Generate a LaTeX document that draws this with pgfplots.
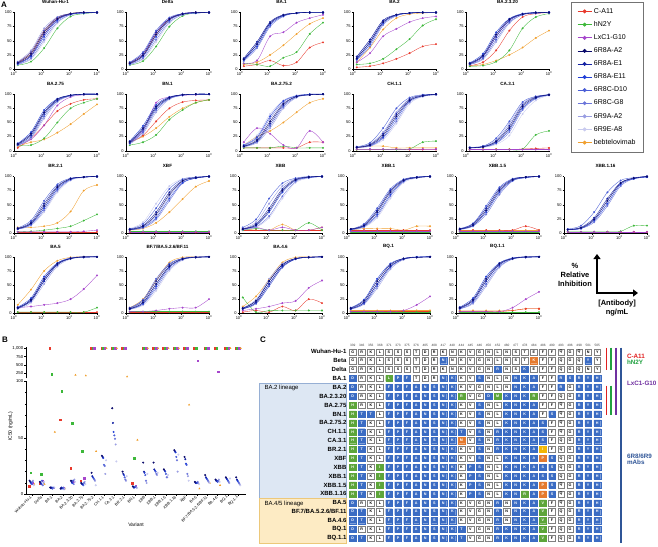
\documentclass[border=0pt]{standalone}
\usepackage{fontspec}
\setmainfont{Liberation Sans}
\usepackage{pgfplots}
\usepackage{pgfplotstable}
\pgfplotsset{compat=1.18}
\usetikzlibrary{arrows.meta}

% antibody colours
\definecolor{cR}{HTML}{E8392C}
\definecolor{cG}{HTML}{3DB83A}
\definecolor{cP}{HTML}{A646CC}
\definecolor{cB1}{HTML}{0A0A6B}
\definecolor{cB2}{HTML}{1522A3}
\definecolor{cB3}{HTML}{2240D8}
\definecolor{cB4}{HTML}{4A5ED6}
\definecolor{cB5}{HTML}{6C76DA}
\definecolor{cB6}{HTML}{9A9EE2}
\definecolor{cB7}{HTML}{C9CBEF}
\definecolor{cO}{HTML}{F0A030}
% table colours
\definecolor{cellB}{HTML}{3B6CC3}
\definecolor{cellG}{HTML}{5DA53A}
\definecolor{cellO}{HTML}{E57A2E}
\definecolor{cellY}{HTML}{F2B705}
\definecolor{labR}{HTML}{E02020}
\definecolor{labG}{HTML}{20A040}
\definecolor{labP}{HTML}{7030A0}
\definecolor{labB}{HTML}{2F5597}
\definecolor{boxBf}{HTML}{DDE7F3}
\definecolor{boxBd}{HTML}{96AFD4}
\definecolor{boxYf}{HTML}{FDEBC4}
\definecolor{boxYd}{HTML}{ECC87A}

\pgfdeclareplotmark{cell}{%
  \pgfsetcornersarced{\pgfpoint{1.1pt}{1.1pt}}%
  \pgfpathmoveto{\pgfpoint{-3.35pt}{0pt}}%
  \pgfpathlineto{\pgfpoint{-3.35pt}{3.05pt}}%
  \pgfpathlineto{\pgfpoint{3.35pt}{3.05pt}}%
  \pgfpathlineto{\pgfpoint{3.35pt}{-3.05pt}}%
  \pgfpathlineto{\pgfpoint{-3.35pt}{-3.05pt}}%
  \pgfpathclose
  \pgfusepathqfillstroke}

\pgfplotsset{/pgf/number format/assume math mode=true}
\pgfplotsset{
  apanel/.style={scale only axis, width=83pt, height=56.5pt, anchor=south west,
    xmin=1, xmax=1000, ymin=0, ymax=100,
    ytick={0,25,50,75,100}, xtick={1,10,100,1000},
    xticklabels={10\textsuperscript{0},10\textsuperscript{1},10\textsuperscript{2},10\textsuperscript{3}},
    axis x line*=bottom, axis y line*=left, axis line style={line width=0.4pt},
    tick align=outside, major tick length=1.5pt, minor tick length=0.9pt,
    tick style={line width=0.3pt, black},
    ticklabel style={font=\fontsize{4}{4}\selectfont, inner sep=0.8pt},
    title style={font=\bfseries\fontsize{4.6}{5}\selectfont, at={(0.5,1)}, anchor=south, yshift=2.5pt, inner sep=0pt},
    clip=false,
    every axis plot/.append style={line width=0.35pt, mark=*, mark size=0.8pt, smooth, tension=0.55},
  },
  pB/.style={scale only axis, width=220pt, anchor=south west,
    xmin=-0.55, xmax=20.75, axis y line*=left,
    tick align=outside, major tick length=1.6pt, minor tick length=1pt,
    tick style={line width=0.3pt, black}, axis line style={line width=0.4pt},
    yticklabel style={font=\fontsize{4.3}{4.3}\selectfont, inner sep=1pt},
    every axis plot/.append style={only marks, mark size=0.8pt},
  },
  cellplot/.style={only marks, mark=cell, point meta=explicit symbolic,
    nodes near coords={\pgfplotspointmeta}, nodes near coords align={center},
    every node near coord/.append style={font=\bfseries\fontsize{3.7}{3.7}\selectfont, inner sep=0pt, anchor=center, text=#1}},
}

\newcommand\Apanel[4]{%
  \begin{axis}[xmode=log, apanel, at={(#1pt,-#2pt)}, title={#3}]
    \addplot[cO] table[x=c,y=O]{#4};
    \addplot[cR] table[x=c,y=R]{#4};
    \addplot[cG] table[x=c,y=G]{#4};
    \addplot[cP] table[x=c,y=P]{#4};
    \addplot[cB7] table[x=c,y=B7]{#4};
    \addplot[cB6] table[x=c,y=B6]{#4};
    \addplot[cB5] table[x=c,y=B5]{#4};
    \addplot[cB4] table[x=c,y=B4]{#4};
    \addplot[cB3] table[x=c,y=B3]{#4};
    \addplot[cB2] table[x=c,y=B2]{#4};
    \addplot[cB1] table[x=c,y=B1]{#4};
  \end{axis}}

% ---- panel A: % relative inhibition vs antibody (ng/mL)
\pgfplotstableread{
c R G P B1 B2 B3 B4 B5 B6 B7 O
1.37 12 7 10 11 10 9 12 8 13 8 11
4.12 30 13 24 27 24 22 30 19 33 17 27
12.3 68 37 61 65 61 57 68 52 72 48 65
37 91 72 88 89 88 86 91 83 92 81 89
111 98 93 97 98 97 97 98 96 98 96 98
333 100 98 100 100 100 99 100 99 100 99 100
1000 100 100 100 100 100 100 100 100 100 100 100
}\datWu
\pgfplotstableread{
c R G P B1 B2 B3 B4 B5 B6 B7 O
1.37 10 7 11 10 11 9 12 8 10 8 10
4.12 24 14 27 24 27 22 30 19 24 17 24
12.3 61 40 65 61 65 57 68 52 61 48 61
37 88 75 89 88 89 86 91 83 88 81 88
111 97 94 98 97 98 97 98 96 97 96 97
333 100 99 100 100 100 99 100 99 100 99 100
1000 100 100 100 100 100 100 100 100 100 100 100
}\datDe
\pgfplotstableread{
c R G P B1 B2 B3 B4 B5 B6 B7 O
1.37 5 10 10 17 19 16 17 14 19 16 8
4.12 8 8 15 44 48 40 44 37 48 40 12
12.3 15 5 58 81 83 78 81 75 83 78 25
37 6 20 65 95 96 94 95 93 96 94 42
111 12 30 82 99 99 99 99 99 99 99 62
333 38 62 90 100 100 100 100 100 100 100 80
1000 47 82 96 100 100 100 100 100 100 100 90
}\datBAa
\pgfplotstableread{
c R G P B1 B2 B3 B4 B5 B6 B7 O
1.37 3 8 12 19 22 17 19 16 22 17 12
4.12 5 10 28 48 52 44 48 40 52 44 38
12.3 10 18 58 83 86 81 83 78 86 81 70
37 18 35 71 96 96 95 96 94 96 95 90
111 28 53 83 99 99 99 99 99 99 99 97
333 40 77 90 100 100 100 100 100 100 100 99
1000 44 88 93 100 100 100 100 100 100 100 100
}\datBAb
\pgfplotstableread{
c R G P B1 B2 B3 B4 B5 B6 B7 O
1.37 6 5 9 10 9 11 8 10 8 9 5
4.12 12 6 22 24 22 27 19 24 17 22 8
12.3 33 13 57 61 57 65 52 61 48 57 15
37 68 33 86 88 86 89 83 88 81 86 25
111 92 72 97 97 97 98 96 97 96 97 38
333 98 92 99 100 99 100 99 100 99 99 55
1000 100 98 100 100 100 100 100 100 100 100 68
}\datBAc
\pgfplotstableread{
c R G P B1 B2 B3 B4 B5 B6 B7 O
1.37 5 10 10 12 11 13 10 12 9 11 8
4.12 22 10 20 30 27 33 24 30 22 27 15
12.3 45 22 45 68 65 72 61 68 57 65 20
37 70 50 80 91 89 92 88 91 86 89 32
111 83 75 95 98 98 98 97 98 97 98 47
333 90 85 99 100 100 100 100 100 99 100 65
1000 92 92 100 100 100 100 100 100 100 100 82
}\datBAd
\pgfplotstableread{
c R G P B1 B2 B3 B4 B5 B6 B7 O
1.37 15 10 15 16 14 17 13 16 12 14 15
4.12 27 15 35 40 37 44 33 40 30 37 25
12.3 52 28 85 78 75 81 72 78 68 75 40
37 75 55 95 94 93 95 92 94 91 93 60
111 86 72 98 99 99 99 98 99 98 99 75
333 89 85 99 100 100 100 100 100 100 100 85
1000 90 90 100 100 100 100 100 100 100 100 90
}\datBN
\pgfplotstableread{
c R G P B1 B2 B3 B4 B5 B6 B7 O
1.37 5 5 15 8 8 10 7 9 7 11 10
4.12 5 5 40 19 17 24 16 22 14 27 25
12.3 5 5 30 52 48 61 44 57 40 65 35
37 5 8 10 83 81 88 78 86 75 89 50
111 5 5 5 96 96 97 95 97 94 98 68
333 15 5 35 99 99 100 99 99 99 100 85
1000 15 5 15 100 100 100 100 100 100 100 92
}\datBAe
\pgfplotstableread{
c R G P B1 B2 B3 B4 B5 B6 B7 O
1.37 2 2 3 6 6 6 7 6 6 6 5
4.12 2 2 3 10 11 9 14 8 12 8 8
12.3 2 2 3 27 30 24 40 22 33 19 8
37 3 2 3 61 65 57 75 52 68 48 5
111 2 3 3 89 91 88 94 86 92 83 5
333 2 15 3 97 98 97 99 96 98 96 5
1000 2 17 3 100 100 100 100 99 100 99 5
}\datCH
\pgfplotstableread{
c R G P B1 B2 B3 B4 B5 B6 B7 O
1.37 2 2 2 5 5 5 6 5 6 5 3
4.12 2 2 2 7 7 7 8 6 8 6 3
12.3 2 2 2 16 17 14 22 13 19 11 3
37 2 2 2 40 44 37 52 33 48 27 3
111 3 3 2 78 81 75 86 72 83 65 3
333 4 28 2 94 95 93 96 92 96 89 3
1000 5 35 2 99 99 99 99 98 99 98 3
}\datCA
\pgfplotstableread{
c R G P B1 B2 B3 B4 B5 B6 B7 O
1.37 2 2 2 8 8 7 9 7 7 7 10
4.12 2 3 2 17 19 16 22 14 16 13 10
12.3 2 5 2 48 52 44 57 40 44 37 12
37 2 8 2 81 83 78 86 75 78 72 18
111 2 12 2 96 96 95 97 94 95 93 38
333 2 22 3 99 99 99 99 99 99 98 75
1000 2 33 5 100 100 100 100 100 100 100 85
}\datBR
\pgfplotstableread{
c R G P B1 B2 B3 B4 B5 B6 B7 O
1.37 1 3 2 6 7 6 7 6 6 8 5
4.12 1 3 2 12 13 10 16 9 11 19 8
12.3 1 3 2 33 37 27 44 24 30 52 18
37 1 3 2 68 72 61 78 57 65 83 37
111 1 3 2 92 93 89 95 88 91 96 60
333 1 3 2 98 98 97 99 97 98 99 82
1000 1 3 2 100 100 100 100 100 100 100 92
}\datXF
\pgfplotstableread{
c R G P B1 B2 B3 B4 B5 B6 B7 O
1.37 5 5 8 7 7 7 10 6 8 6 8
4.12 5 8 10 14 16 13 24 11 19 10 5
12.3 5 5 5 40 44 37 61 30 52 27 5
37 5 5 10 75 78 72 88 65 83 61 15
111 5 5 5 94 95 93 97 91 96 89 5
333 5 18 5 99 99 98 100 98 99 97 5
1000 5 5 10 100 100 100 100 100 100 100 10
}\datXa
\pgfplotstableread{
c R G P B1 B2 B3 B4 B5 B6 B7 O
1.37 5 2 3 7 7 6 7 6 7 6 5
4.12 5 2 3 13 14 12 16 11 14 10 8
12.3 5 2 3 37 40 33 44 30 40 27 8
37 5 2 3 72 75 68 78 65 75 61 8
111 5 2 3 93 94 92 95 91 94 89 5
333 5 2 3 98 99 98 99 98 99 97 12
1000 5 2 3 100 100 100 100 100 100 100 12
}\datXb
\pgfplotstableread{
c R G P B1 B2 B3 B4 B5 B6 B7 O
1.37 5 2 3 7 7 7 8 6 7 7 5
4.12 5 2 3 14 16 13 17 12 16 13 5
12.3 5 2 3 40 44 37 48 33 44 37 5
37 5 2 3 75 78 72 81 68 78 72 5
111 5 2 3 94 95 93 96 92 95 93 5
333 12 2 3 99 99 98 99 98 99 98 5
1000 5 2 3 100 100 100 100 100 100 100 5
}\datXc
\pgfplotstableread{
c R G P B1 B2 B3 B4 B5 B6 B7 O
1.37 2 2 2 6 6 6 7 6 6 6 2
4.12 2 2 2 9 10 8 13 8 9 8 2
12.3 2 2 2 24 27 22 37 19 24 22 2
37 2 2 2 57 61 52 72 48 57 52 2
111 2 3 2 88 89 86 93 83 88 86 2
333 2 13 2 97 97 96 98 96 97 96 2
1000 2 13 2 100 100 99 100 99 100 99 2
}\datXd
\pgfplotstableread{
c R G P B1 B2 B3 B4 B5 B6 B7 O
1.37 2 2 10 10 9 11 9 10 8 10 15
4.12 2 2 12 24 22 27 22 24 19 24 42
12.3 2 2 15 61 57 65 57 61 52 61 75
37 2 2 18 88 86 89 86 88 83 88 93
111 2 2 25 97 97 98 97 97 96 97 99
333 2 2 43 100 99 100 99 100 99 100 100
1000 2 10 67 100 100 100 100 100 100 100 100
}\datBAf
\pgfplotstableread{
c R G P B1 B2 B3 B4 B5 B6 B7 O
1.37 2 3 3 8 9 8 10 7 8 7 10
4.12 2 3 3 19 22 17 24 16 19 14 25
12.3 2 3 5 52 57 48 61 44 52 40 58
37 2 3 8 83 86 81 88 78 83 75 90
111 2 3 10 96 97 96 97 95 96 94 99
333 2 3 10 99 99 99 100 99 99 99 100
1000 2 3 25 100 100 100 100 100 100 100 100
}\datBF
\pgfplotstableread{
c R G P B1 B2 B3 B4 B5 B6 B7 O
1.37 2 28 5 9 8 9 8 8 10 8 12
4.12 5 2 8 22 19 22 17 19 24 17 30
12.3 2 5 12 57 52 57 48 52 61 48 60
37 12 5 18 86 83 86 81 83 88 81 90
111 5 5 22 97 96 97 96 96 97 96 99
333 25 5 45 99 99 99 99 99 100 99 100
1000 18 5 58 100 100 100 100 100 100 100 100
}\datBAg
\pgfplotstableread{
c R G P B1 B2 B3 B4 B5 B6 B7 O
1.37 3 2 3 9 8 10 8 8 7 9 5
4.12 3 2 3 22 19 24 17 19 16 22 5
12.3 3 2 3 57 52 61 48 52 44 57 5
37 3 2 3 86 83 88 81 83 78 86 5
111 3 2 5 97 96 97 96 96 95 97 5
333 3 2 15 99 99 100 99 99 99 99 5
1000 3 2 30 100 100 100 100 100 100 100 5
}\datBQa
\pgfplotstableread{
c R G P B1 B2 B3 B4 B5 B6 B7 O
1.37 3 2 3 10 9 11 8 9 8 10 5
4.12 3 2 3 24 22 27 19 22 17 24 5
12.3 3 2 3 61 57 65 52 57 48 61 5
37 3 2 3 88 86 89 83 86 81 88 5
111 5 2 10 97 97 98 96 97 96 97 5
333 8 2 25 100 99 100 99 99 99 100 8
1000 8 2 38 100 100 100 100 100 100 100 8
}\datBQb

% ---- panel B: IC50 (ng/mL), 1000 = not reached
\pgfplotstableread{
k R G P O b1 b2 b3 b4 b5 b6 b7
0 7 19 10 9 12 11 10 9 11 12 8
1 10 18 12 9 11 10 9 12 8 10 11
2 1000 220 6 55 6 5.5 6 5 6 5.5 6
3 66 91 6 5 5 6 5 5.5 6 4.5 5
4 23 63 11 200 12 11 10 12 9 13 11
5 12 38 14 180 10 9 9 8 10 11 9
6 1000 1000 1000 38 19 16 15 14 13 12 8
7 1000 1000 1000 1000 34 33 32 26 25 18 30
8 1000 1000 1000 1000 76 63 55 52 49 44 29
9 1000 1000 1000 150 20 18 17 15 13 12 16
10 10 32 7 48 7 6 6 6.5 7 6 5.5
11 1000 1000 1000 1000 28 20 19 17 12 10 18
12 1000 1000 1000 1000 28 22 21 20 18 17 19
13 1000 1000 1000 1000 22 21 20 18 15 15 17
14 1000 1000 1000 1000 39 38 37 33 30 20 35
15 1000 1000 1000 79 33 31 27 26 18 16 12
16 1000 1000 630 5 11 10 10 10 11 10 9
17 1000 1000 1000 10 17 15 14 13 12 11 10
18 1000 1000 300 8 13 12 12 11 12 13 11
19 1000 1000 1000 1000 15 14 13 12 11 10 14
20 1000 1000 1000 1000 15 13 12 11 10 9 8
}\datIC

% ---- panel C: RBD residues (column, row, residue), one table per cell colour
\pgfplotstableread[row sep=\\,col sep=space]{x y L\\%
1 22 G\\2 22 R\\3 22 K\\4 22 L\\5 22 S\\6 22 S\\7 22 S\\8 22 T\\9 22 D\\10 22 R\\11 22 K\\12 22 N\\13 22 K\\14 22 V\\15 22 G\\16 22 N\\17 22 L\\18 22 N\\19 22 S\\20 22 T\\21 22 E\\22 22 F\\23 22 F\\24 22 Q\\25 22 G\\26 22 Q\\27 22 N\\28 22 Y\\%
1 21 G\\2 21 R\\3 21 K\\4 21 L\\5 21 S\\6 21 S\\7 21 S\\8 21 T\\9 21 D\\10 21 R\\12 21 N\\13 21 K\\14 21 V\\15 21 G\\16 21 N\\17 21 L\\18 21 N\\19 21 S\\20 21 T\\22 21 F\\23 21 F\\24 21 Q\\25 21 G\\26 21 Q\\28 21 Y\\%
1 20 G\\2 20 R\\3 20 K\\4 20 L\\5 20 S\\6 20 S\\7 20 S\\8 20 T\\9 20 D\\10 20 R\\11 20 K\\12 20 N\\13 20 K\\14 20 V\\15 20 G\\16 20 N\\18 20 N\\19 20 S\\21 20 E\\22 20 F\\23 20 F\\24 20 Q\\25 20 G\\26 20 Q\\27 20 N\\28 20 Y\\%
2 19 R\\3 19 K\\4 19 L\\8 19 T\\9 19 D\\10 19 R\\13 19 K\\14 19 V\\16 19 N\\17 19 L\\18 19 N\\22 19 F\\23 19 F\\%
2 18 R\\3 18 K\\4 18 L\\13 18 K\\14 18 V\\15 18 G\\16 18 N\\17 18 L\\18 18 N\\22 18 F\\23 18 F\\25 18 G\\%
2 17 R\\3 17 K\\4 17 L\\14 17 V\\15 17 G\\22 17 F\\23 17 F\\24 17 Q\\25 17 G\\%
2 16 R\\3 16 K\\4 16 L\\13 16 K\\14 16 V\\16 16 N\\17 16 L\\22 16 F\\23 16 F\\24 16 Q\\25 16 G\\%
4 15 L\\13 15 K\\14 15 V\\16 15 N\\17 15 L\\22 15 F\\24 15 Q\\25 15 G\\%
3 14 K\\4 14 L\\13 14 K\\14 14 V\\16 14 N\\17 14 L\\23 14 F\\24 14 Q\\25 14 G\\%
3 13 K\\4 13 L\\14 13 V\\16 13 N\\23 13 F\\24 13 Q\\25 13 G\\%
3 12 K\\4 12 L\\14 12 V\\16 12 N\\23 12 F\\24 12 Q\\25 12 G\\%
3 11 K\\4 11 L\\13 11 K\\14 11 V\\16 11 N\\23 11 F\\24 11 Q\\25 11 G\\%
3 10 K\\4 10 L\\13 10 K\\14 10 V\\16 10 N\\17 10 L\\24 10 Q\\25 10 G\\%
3 9 K\\13 9 K\\16 9 N\\17 9 L\\24 9 Q\\25 9 G\\%
3 8 K\\13 8 K\\16 8 N\\17 8 L\\24 8 Q\\25 8 G\\%
3 7 K\\13 7 K\\16 7 N\\17 7 L\\24 7 Q\\25 7 G\\%
3 6 K\\13 6 K\\16 6 N\\17 6 L\\24 6 Q\\25 6 G\\%
2 5 R\\3 5 K\\4 5 L\\13 5 K\\14 5 V\\15 5 G\\16 5 N\\18 5 N\\23 5 F\\24 5 Q\\25 5 G\\%
3 4 K\\4 4 L\\13 4 K\\14 4 V\\15 4 G\\16 4 N\\18 4 N\\23 4 F\\24 4 Q\\25 4 G\\%
3 3 K\\4 3 L\\13 3 K\\14 3 V\\15 3 G\\16 3 N\\18 3 N\\23 3 F\\24 3 Q\\25 3 G\\%
2 2 R\\3 2 K\\4 2 L\\14 2 V\\15 2 G\\16 2 N\\23 2 F\\24 2 Q\\25 2 G\\%
3 1 K\\4 1 L\\14 1 V\\15 1 G\\16 1 N\\23 1 F\\24 1 Q\\25 1 G\\%
}\cellW
\pgfplotstableread[row sep=\\,col sep=space]{x y L\\%
11 21 N\\27 21 Y\\%
17 20 R\\20 20 K\\%
1 19 D\\6 19 P\\7 19 F\\11 19 N\\12 19 K\\15 19 S\\19 19 N\\20 19 K\\21 19 A\\24 19 R\\25 19 S\\26 19 R\\27 19 Y\\28 19 H\\%
1 18 D\\5 18 F\\6 18 P\\7 18 F\\8 18 A\\9 18 N\\10 18 S\\11 18 N\\12 18 K\\19 18 N\\20 18 K\\21 18 A\\24 18 R\\26 18 R\\27 18 Y\\28 18 H\\%
1 17 D\\5 17 F\\6 17 P\\7 17 F\\8 17 A\\9 17 N\\10 17 S\\11 17 N\\12 17 K\\16 17 D\\18 17 K\\19 17 N\\20 17 K\\26 17 R\\27 17 Y\\28 17 H\\%
5 16 F\\6 16 P\\7 16 F\\8 16 A\\9 16 N\\10 16 S\\11 16 N\\12 16 K\\15 16 S\\18 16 K\\19 16 N\\20 16 K\\21 16 A\\26 16 R\\27 16 Y\\28 16 H\\%
2 15 T\\3 15 T\\5 15 F\\6 15 P\\7 15 F\\8 15 A\\9 15 N\\10 15 S\\11 15 N\\12 15 K\\15 15 S\\18 15 K\\19 15 N\\20 15 K\\21 15 A\\23 15 S\\26 15 R\\27 15 Y\\28 15 H\\%
2 14 T\\5 14 F\\6 14 P\\7 14 F\\8 14 A\\9 14 N\\10 14 S\\11 14 N\\12 14 K\\15 14 S\\18 14 K\\19 14 N\\20 14 K\\21 14 A\\22 14 S\\26 14 R\\27 14 Y\\28 14 H\\%
2 13 T\\5 13 F\\6 13 P\\7 13 F\\8 13 A\\9 13 N\\10 13 S\\11 13 N\\12 13 K\\13 13 T\\15 13 S\\17 13 R\\18 13 K\\19 13 N\\20 13 K\\21 13 A\\22 13 S\\26 13 R\\27 13 Y\\28 13 H\\%
2 12 T\\5 12 F\\6 12 P\\7 12 F\\8 12 A\\9 12 N\\10 12 S\\11 12 N\\12 12 K\\15 12 S\\17 12 R\\18 12 K\\19 12 N\\20 12 K\\21 12 A\\22 12 S\\26 12 R\\27 12 Y\\28 12 H\\%
2 11 T\\5 11 F\\6 11 P\\7 11 F\\8 11 A\\9 11 N\\10 11 S\\11 11 N\\12 11 K\\15 11 S\\17 11 R\\18 11 K\\19 11 N\\20 11 K\\21 11 A\\26 11 R\\27 11 Y\\28 11 H\\%
2 10 T\\5 10 F\\6 10 P\\7 10 F\\8 10 A\\9 10 N\\10 10 S\\11 10 N\\12 10 K\\15 10 S\\18 10 K\\19 10 N\\20 10 K\\21 10 A\\23 10 S\\26 10 R\\27 10 Y\\28 10 H\\%
2 9 T\\5 9 F\\6 9 P\\7 9 F\\8 9 A\\9 9 N\\10 9 S\\11 9 N\\12 9 K\\14 9 P\\15 9 S\\18 9 K\\19 9 N\\20 9 K\\21 9 A\\22 9 S\\23 9 S\\26 9 R\\27 9 Y\\28 9 H\\%
2 8 T\\5 8 F\\6 8 P\\7 8 F\\8 8 A\\9 8 N\\10 8 S\\11 8 N\\12 8 K\\14 8 P\\15 8 S\\18 8 K\\19 8 N\\20 8 K\\21 8 A\\22 8 S\\23 8 S\\26 8 R\\27 8 Y\\28 8 H\\%
2 7 T\\5 7 F\\6 7 P\\7 7 F\\8 7 A\\9 7 N\\10 7 S\\11 7 N\\12 7 K\\14 7 P\\15 7 S\\18 7 K\\19 7 N\\20 7 K\\21 7 A\\23 7 S\\26 7 R\\27 7 Y\\28 7 H\\%
2 6 T\\5 6 F\\6 6 P\\7 6 F\\8 6 A\\9 6 N\\10 6 S\\11 6 N\\12 6 K\\14 6 P\\15 6 S\\18 6 K\\19 6 N\\21 6 A\\23 6 S\\26 6 R\\27 6 Y\\28 6 H\\%
1 5 D\\5 5 F\\6 5 P\\7 5 F\\8 5 A\\9 5 N\\10 5 S\\11 5 N\\12 5 K\\17 5 R\\19 5 N\\20 5 K\\21 5 A\\26 5 R\\27 5 Y\\28 5 H\\%
1 4 D\\2 4 T\\5 4 F\\6 4 P\\7 4 F\\8 4 A\\9 4 N\\10 4 S\\11 4 N\\12 4 K\\17 4 R\\19 4 N\\20 4 K\\21 4 A\\26 4 R\\27 4 Y\\28 4 H\\%
1 3 D\\2 3 T\\5 3 F\\6 3 P\\7 3 F\\8 3 A\\9 3 N\\10 3 S\\11 3 N\\12 3 K\\17 3 R\\19 3 N\\20 3 K\\21 3 A\\26 3 R\\27 3 Y\\28 3 H\\%
1 2 D\\5 2 F\\6 2 P\\7 2 F\\8 2 A\\9 2 N\\10 2 S\\11 2 N\\12 2 K\\13 2 T\\17 2 R\\18 2 K\\19 2 N\\20 2 K\\21 2 A\\26 2 R\\27 2 Y\\28 2 H\\%
1 1 D\\2 1 T\\5 1 F\\6 1 P\\7 1 F\\8 1 A\\9 1 N\\10 1 S\\11 1 N\\12 1 K\\13 1 T\\17 1 R\\18 1 K\\19 1 N\\20 1 K\\21 1 A\\26 1 R\\27 1 Y\\28 1 H\\%
}\cellB
\pgfplotstableread[row sep=\\,col sep=space]{x y L\\%
5 19 L\\13 17 R\\17 17 M\\21 17 R\\1 16 H\\1 15 H\\1 14 H\\1 13 H\\1 12 H\\1 11 H\\1 10 H\\%
1 9 H\\4 9 I\\1 8 H\\4 8 I\\1 7 H\\4 7 I\\1 6 H\\4 6 I\\20 6 R\\%
22 5 V\\22 4 V\\22 3 V\\22 2 V\\22 1 V\\%
}\cellG
\pgfplotstableread[row sep=\\,col sep=space]{x y L\\%
21 21 K\\13 12 M\\22 10 P\\22 7 P\\22 6 P\\%
}\cellO
\pgfplotstableread[row sep=\\,col sep=space]{x y L\\%
22 11 I\\22 11 I\\%
}\cellY

\begin{document}
\begin{tikzpicture}
\path[use as bounding box] (0pt,0pt) rectangle (658pt,-546pt);

% ================= A =================
\node[font=\bfseries\fontsize{8}{8}\selectfont] at (4pt,-5pt) {A};
\Apanel{14}{69}{Wuhan-Hu-1}{\datWu}
\Apanel{126}{69}{Delta}{\datDe}
\Apanel{240}{69}{BA.1}{\datBAa}
\Apanel{353}{69}{BA.2}{\datBAb}
\Apanel{466}{69}{BA.2.3.20}{\datBAc}
\Apanel{14}{150.7}{BA.2.75}{\datBAd}
\Apanel{126}{150.7}{BN.1}{\datBN}
\Apanel{240}{150.7}{BA.2.75.2}{\datBAe}
\Apanel{353}{150.7}{CH.1.1}{\datCH}
\Apanel{466}{150.7}{CA.3.1}{\datCA}
\Apanel{14}{233}{BR.2.1}{\datBR}
\Apanel{126}{233}{XBF}{\datXF}
\Apanel{239}{233}{XBB}{\datXa}
\Apanel{347}{233}{XBB.1}{\datXb}
\Apanel{456}{233}{XBB.1.5}{\datXc}
\Apanel{564}{233}{XBB.1.16}{\datXd}
\Apanel{14}{313.3}{BA.5}{\datBAf}
\Apanel{126}{313.3}{BF.7/BA.5.2.6/BF.11}{\datBF}
\Apanel{239}{313.3}{BA.4.6}{\datBAg}
\Apanel{347}{313.3}{BQ.1}{\datBQa}
\Apanel{456}{313.3}{BQ.1.1}{\datBQb}

% legend
\begin{axis}[at={(571pt,-2pt)}, anchor=north west, scale only axis, width=10pt, height=10pt,
  hide axis, xmin=0, xmax=1, ymin=0, ymax=1, legend cell align=left,
  legend style={at={(0,1)}, anchor=north west, draw=black!55, line width=0.5pt,
    font=\fontsize{7}{8}\selectfont, row sep=2.7pt, inner xsep=6pt, inner ysep=4pt},
  legend image code/.code={\draw[mark repeat=2,mark phase=2,#1] plot coordinates {(0pt,0pt) (7pt,0pt) (14pt,0pt)};}]
  \addplot[draw=none, forget plot] coordinates {(0,0)};
  \addlegendimage{cR, mark=*, mark size=1.6pt, line width=0.7pt}
  \addlegendentry{C-A11}
  \addlegendimage{cG, mark=*, mark size=1.6pt, line width=0.7pt}
  \addlegendentry{hN2Y}
  \addlegendimage{cP, mark=*, mark size=1.6pt, line width=0.7pt}
  \addlegendentry{LxC1-G10}
  \addlegendimage{cB1, mark=*, mark size=1.6pt, line width=0.7pt}
  \addlegendentry{6R8A-A2}
  \addlegendimage{cB2, mark=*, mark size=1.6pt, line width=0.7pt}
  \addlegendentry{6R8A-E1}
  \addlegendimage{cB3, mark=*, mark size=1.6pt, line width=0.7pt}
  \addlegendentry{6R8A-E11}
  \addlegendimage{cB4, mark=*, mark size=1.6pt, line width=0.7pt}
  \addlegendentry{6R8C-D10}
  \addlegendimage{cB5, mark=*, mark size=1.6pt, line width=0.7pt}
  \addlegendentry{6R8C-G8}
  \addlegendimage{cB6, mark=*, mark size=1.6pt, line width=0.7pt}
  \addlegendentry{6R9A-A2}
  \addlegendimage{cB7, mark=*, mark size=1.6pt, line width=0.7pt}
  \addlegendentry{6R9E-A8}
  \addlegendimage{cO, mark=*, mark size=1.6pt, line width=0.7pt}
  \addlegendentry{bebtelovimab}
\end{axis}

% axis key
\node[font=\bfseries\fontsize{7.5}{9}\selectfont, align=center] at (575pt,-275pt) {\%\\Relative\\Inhibition};
\draw[line width=2.2pt, {Triangle[length=5pt,width=7pt]}-{Triangle[length=5pt,width=7pt]}]
  (597pt,-254pt) -- (597pt,-293pt) -- (638pt,-293pt);
\node[font=\bfseries\fontsize{7.5}{9}\selectfont, align=center] at (617pt,-308pt) {[Antibody]\\ng/mL};

% ================= B =================
\node[font=\bfseries\fontsize{8}{8}\selectfont] at (5pt,-340pt) {B};
\begin{axis}[pB, at={(26pt,-378.3pt)}, height=31.7pt, ymin=100, ymax=1050,
  ytick={250,500,750,1000}, axis x line=none, restrict y to domain=100:1100]
  \addplot[cB1, mark=*] table[x expr=\thisrow{k}-0.2, y=b1]{\datIC};
  \addplot[cR, mark=square*] table[x expr=\thisrow{k}-0.24, y=R]{\datIC};
  \addplot[cG, mark=square*] table[x expr=\thisrow{k}-0.08, y=G]{\datIC};
  \addplot[cP, mark=square*] table[x expr=\thisrow{k}+0.08, y=P]{\datIC};
  \addplot[cO, mark=triangle*] table[x expr=\thisrow{k}+0.24, y=O]{\datIC};
\end{axis}
\begin{axis}[pB, at={(26pt,-494.3pt)}, height=113.3pt, ymin=0, ymax=100,
  ytick={0,50,100}, minor y tick num=4, axis x line*=bottom,
  restrict y to domain=0:100,
  xtick={0,...,20},
  xticklabels={Wuhan-Hu-1,Delta,BA.1,BA.2,BA.2.3.20,BA.2.75,BA.2.75.2,CH.1.1,CA.3.1,BR.2.1,BN.1,XBB,XBB.1,XBB.1.5,XBB.1.16,XBF,BA.5,BF.7/BA.5.2.6/BF.11,BA.4.6,BQ.1,BQ.1.1},
  xticklabel style={rotate=45, anchor=east, font=\fontsize{3.9}{3.9}\selectfont, inner sep=0.8pt},
  xlabel={Variant}, ylabel={IC50 (ng/mL)},
  xlabel style={font=\fontsize{5}{5}\selectfont, at={(axis description cs:0.5,-0.27)}, anchor=center},
  ylabel style={font=\fontsize{5}{5}\selectfont, at={(axis description cs:-0.07,0.6)}, anchor=center}]
  \addplot[cO, mark=triangle*] table[x expr=\thisrow{k}+0.24, y=O]{\datIC};
  \addplot[cR, mark=square*] table[x expr=\thisrow{k}-0.24, y=R]{\datIC};
  \addplot[cG, mark=square*] table[x expr=\thisrow{k}-0.08, y=G]{\datIC};
  \addplot[cP, mark=square*] table[x expr=\thisrow{k}+0.08, y=P]{\datIC};
  \addplot[cB7, mark=*] table[x expr=\thisrow{k}+0.2, y=b7]{\datIC};
  \addplot[cB6, mark=*] table[x expr=\thisrow{k}+0.13, y=b6]{\datIC};
  \addplot[cB5, mark=*] table[x expr=\thisrow{k}+0.07, y=b5]{\datIC};
  \addplot[cB4, mark=*] table[x expr=\thisrow{k}, y=b4]{\datIC};
  \addplot[cB3, mark=*] table[x expr=\thisrow{k}-0.07, y=b3]{\datIC};
  \addplot[cB2, mark=*] table[x expr=\thisrow{k}-0.13, y=b2]{\datIC};
  \addplot[cB1, mark=*] table[x expr=\thisrow{k}-0.2, y=b1]{\datIC};
\end{axis}

% ================= C =================
\node[font=\bfseries\fontsize{8}{8}\selectfont] at (263pt,-340pt) {C};
\filldraw[fill=boxBf, draw=boxBd, line width=0.5pt] (259.3pt,-382.9pt) rectangle (346.5pt,-498.5pt);
\filldraw[fill=boxYf, draw=boxYd, line width=0.5pt] (259.3pt,-498.5pt) rectangle (346.5pt,-543pt);
\node[anchor=west, font=\fontsize{6}{6}\selectfont] at (261pt,-388pt) {BA.2 lineage};
\node[anchor=west, font=\fontsize{6}{6}\selectfont] at (261pt,-503.5pt) {BA.4/5 lineage};
\begin{axis}[scale only axis, at={(348.2pt,-542.8pt)}, anchor=south west,
  width=253.6pt, height=195.5pt, xmin=0.5, xmax=28.5, ymin=0.5, ymax=22.5,
  axis x line*=top, axis y line*=left, axis line style={draw=none},
  major tick length=0pt, tick style={draw=none}, clip=false,
  xtick={1,...,28},
  xticklabels={339,346,356,368,371,373,375,376,405,408,417,440,444,445,446,450,452,460,477,478,484,486,490,493,496,498,501,505},
  ytick={1,...,22},
  yticklabels={BQ.1.1,BQ.1,BA.4.6,BF.7/BA.5.2.6/BF.11,BA.5,XBB.1.16,XBB.1.5,XBB.1,XBB,XBF,BR.2.1,CA.3.1,CH.1.1,BA.2.75.2,BN.1,BA.2.75,BA.2.3.20,BA.2,BA.1,Delta,Beta,Wuhan-Hu-1},
  xticklabel style={font=\fontsize{3.2}{3.4}\selectfont, text=black!75, inner sep=1pt},
  yticklabel style={font=\bfseries\fontsize{6}{6}\selectfont, inner sep=1.6pt}]
  \addplot[cellplot=black, draw=black!50, fill=white, line width=0.35pt] table[x=x, y=y, meta=L]{\cellW};
  \addplot[cellplot=white, draw=cellB, fill=cellB, line width=0.2pt] table[x=x, y=y, meta=L]{\cellB};
  \addplot[cellplot=white, draw=cellG, fill=cellG, line width=0.2pt] table[x=x, y=y, meta=L]{\cellG};
  \addplot[cellplot=white, draw=cellO, fill=cellO, line width=0.2pt] table[x=x, y=y, meta=L]{\cellO};
  \addplot[cellplot=white, draw=cellY, fill=cellY, line width=0.2pt] table[x=x, y=y, meta=L]{\cellY};
\end{axis}
% antibody coverage bars
\draw[line width=1.4pt, labR] (606.7pt,-347.7pt) -- (606.7pt,-370pt);
\draw[line width=1.4pt, labR] (606.7pt,-385.7pt) -- (606.7pt,-415pt);
\draw[line width=1.4pt, labG] (611pt,-347.7pt) -- (611pt,-370pt);
\draw[line width=1.4pt, labG] (611pt,-385.7pt) -- (611pt,-415pt);
\draw[line width=1.4pt, labP] (616pt,-347.7pt) -- (616pt,-415pt);
\draw[line width=1.4pt, labB] (621pt,-347.7pt) -- (621pt,-543.3pt);
\node[anchor=west, font=\bfseries\fontsize{6.3}{6.3}\selectfont, text=labR] at (623.5pt,-356.5pt) {C-A11};
\node[anchor=west, font=\bfseries\fontsize{6.3}{6.3}\selectfont, text=labG] at (623.5pt,-362.5pt) {hN2Y};
\node[anchor=west, font=\bfseries\fontsize{6.3}{6.3}\selectfont, text=labP] at (623.5pt,-383pt) {LxC1-G10};
\node[anchor=west, font=\bfseries\fontsize{6.3}{6.3}\selectfont, text=labB, align=left] at (623.5pt,-459.5pt) {6R8/6R9\\mAbs};
\end{tikzpicture}
\end{document}
